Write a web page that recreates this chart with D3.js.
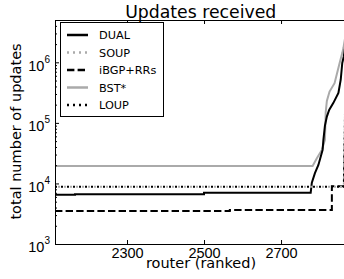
<script src="https://d3js.org/d3.v7.min.js"></script>

<body>
  <div id='chart'></div>
</body>

<style>
body {
  margin: 0;
  background: #fff;
}
#chart svg {
  font-family: "DejaVu Sans", sans-serif;
}
</style>

<script>

// series: router rank (x) and total number of updates (y)
var dualRank = [2113, 2165, 2165, 2500, 2500, 2777, 2780, 2788, 2797, 2803, 2808, 2810, 2814, 2819, 2825, 2836, 2849, 2855, 2859, 2863, 2870];
var dualUpdates = [6500, 6500, 6650, 6650, 7050, 7050, 10300, 14800, 20200, 27700, 35800, 52400, 90000, 127000, 164000, 214000, 313000, 516000, 977000, 1250000, 2500000];

var soupRank = [2113, 2863, 2870];
var soupUpdates = [8860, 8860, 5000000];

var ibgpRank = [2113, 2567, 2567, 2832, 2832, 2864, 2870];
var ibgpUpdates = [3500, 3500, 3640, 3640, 9000, 9000, 3000000];

var bstRank = [2113, 2782, 2793, 2806, 2814, 2816, 2819, 2826, 2839, 2852, 2859, 2862, 2870];
var bstUpdates = [19500, 19500, 26100, 35800, 52400, 150000, 230000, 329000, 452000, 968000, 1420000, 1720000, 3500000];

var loupRank = [2113, 2863, 2870];
var loupUpdates = [8860, 8860, 5000000];

var seriesNames = ['DUAL', 'SOUP', 'iBGP+RRs', 'BST*', 'LOUP'];
var xTicks = [2300, 2500, 2700];
var yTicks = [1e3, 1e4, 1e5, 1e6];

var series = [
  {name: 'DUAL', rank: dualRank, updates: dualUpdates, color: '#000', dash: null},
  {name: 'SOUP', rank: soupRank, updates: soupUpdates, color: '#aaa', dash: '2,4', offset: 3},
  {name: 'iBGP+RRs', rank: ibgpRank, updates: ibgpUpdates, color: '#000', dash: '7.4,3.2'},
  {name: 'BST*', rank: bstRank, updates: bstUpdates, color: '#aaa', dash: null},
  {name: 'LOUP', rank: loupRank, updates: loupUpdates, color: '#000', dash: '2,4'}
];

var width = 344,
    height = 279,
    plotLeft = 55,
    plotRight = 346.5,
    plotTop = 20,
    plotBottom = 244;

var svg = d3.select('#chart').append('svg')
  .attr('width', width)
  .attr('height', height);

var x = d3.scaleLinear().domain([2113, 2870]).range([plotLeft, plotRight]);
var y = d3.scaleLog().domain([1e3, 5e6]).range([plotBottom, plotTop]);

svg.append('clipPath').attr('id', 'clip')
  .append('rect')
  .attr('x', plotLeft).attr('y', plotTop)
  .attr('width', plotRight - plotLeft).attr('height', plotBottom - plotTop);

var line = d3.line()
  .x(function(d) { return x(d[0]); })
  .y(function(d) { return y(d[1]); });

// draw order: BST*, DUAL, iBGP, SOUP, LOUP
var drawOrder = ['BST*', 'DUAL', 'iBGP+RRs', 'SOUP', 'LOUP'];
var plot = svg.append('g').attr('clip-path', 'url(#clip)');

drawOrder.forEach(function(n) {
  var s = series.find(function(d) { return d.name === n; });
  plot.append('path')
    .datum(d3.zip(s.rank, s.updates))
    .attr('d', line)
    .attr('fill', 'none')
    .attr('stroke', s.color)
    .attr('stroke-width', 2)
    .attr('stroke-dasharray', s.dash)
    .attr('stroke-dashoffset', s.offset || 0);
});

// axes, ticks pointing inward
var xAxis = svg.append('g')
  .attr('transform', 'translate(0,' + plotBottom + ')')
  .call(d3.axisBottom(x).tickValues(xTicks).tickSize(-4).tickSizeOuter(0).tickPadding(4).tickFormat(d3.format('d')));

svg.append('g')
  .attr('transform', 'translate(0,' + plotTop + ')')
  .call(d3.axisTop(x).tickValues(xTicks).tickSize(-4).tickSizeOuter(0).tickFormat(''));

var yAxis = svg.append('g')
  .attr('transform', 'translate(' + plotLeft + ',0)')
  .call(d3.axisLeft(y).tickValues(yTicks).tickSize(-4).tickSizeOuter(0).tickPadding(5).tickFormat(''));

var minor = [];
yTicks.forEach(function(p) {
  for (var k = 2; k <= 9; k++) if (p * k <= 5e6) minor.push(p * k);
});
svg.append('g')
  .attr('transform', 'translate(' + plotLeft + ',0)')
  .call(d3.axisLeft(y).tickValues(minor).tickSize(-2).tickSizeOuter(0).tickFormat(''))
  .select('.domain').remove();

svg.selectAll('.domain').attr('stroke', '#000').attr('stroke-width', 1);
svg.selectAll('.tick line').attr('stroke', '#000');

xAxis.selectAll('.tick text')
  .attr('font-size', '14.5px')
  .attr('fill', '#000')
  .attr('dy', '0.71em');

yAxis.selectAll('.tick text')
  .attr('font-size', '14.5px')
  .attr('fill', '#000')
  .attr('dy', '7.7px')
  .each(function(d) {
    var t = d3.select(this);
    t.append('tspan').text('10');
    t.append('tspan').attr('dy', '-8px').attr('font-size', '10px').text(Math.round(Math.log10(d)));
  });

// title and labels
svg.append('text')
  .attr('x', (plotLeft + plotRight) / 2)
  .attr('y', 17.5)
  .attr('text-anchor', 'middle')
  .attr('font-size', '17.3px')
  .text('Updates received');

svg.append('text')
  .attr('x', 201)
  .attr('y', 268)
  .attr('text-anchor', 'middle')
  .attr('font-size', '14.5px')
  .text('router (ranked)');

svg.append('text')
  .attr('transform', 'translate(21,131.5) rotate(-90)')
  .attr('text-anchor', 'middle')
  .attr('font-size', '14.5px')
  .text('total number of updates');

// legend
var legend = svg.append('g');
legend.append('rect')
  .attr('x', 60.5).attr('y', 22.5)
  .attr('width', 103).attr('height', 94)
  .attr('fill', '#fff')
  .attr('stroke', '#000')
  .attr('stroke-width', 1);

var row = d3.scaleLinear().domain([0, seriesNames.length - 1]).range([35, 105]);

seriesNames.forEach(function(n, i) {
  var s = series.find(function(d) { return d.name === n; });
  legend.append('line')
    .attr('x1', 67).attr('x2', 88)
    .attr('y1', row(i)).attr('y2', row(i))
    .attr('stroke', s.color)
    .attr('stroke-width', 2.5)
    .attr('stroke-dasharray', s.dash);
  legend.append('text')
    .attr('x', 99)
    .attr('y', row(i))
    .attr('dy', '0.36em')
    .attr('font-size', '11.3px')
    .text(n);
});

</script>
